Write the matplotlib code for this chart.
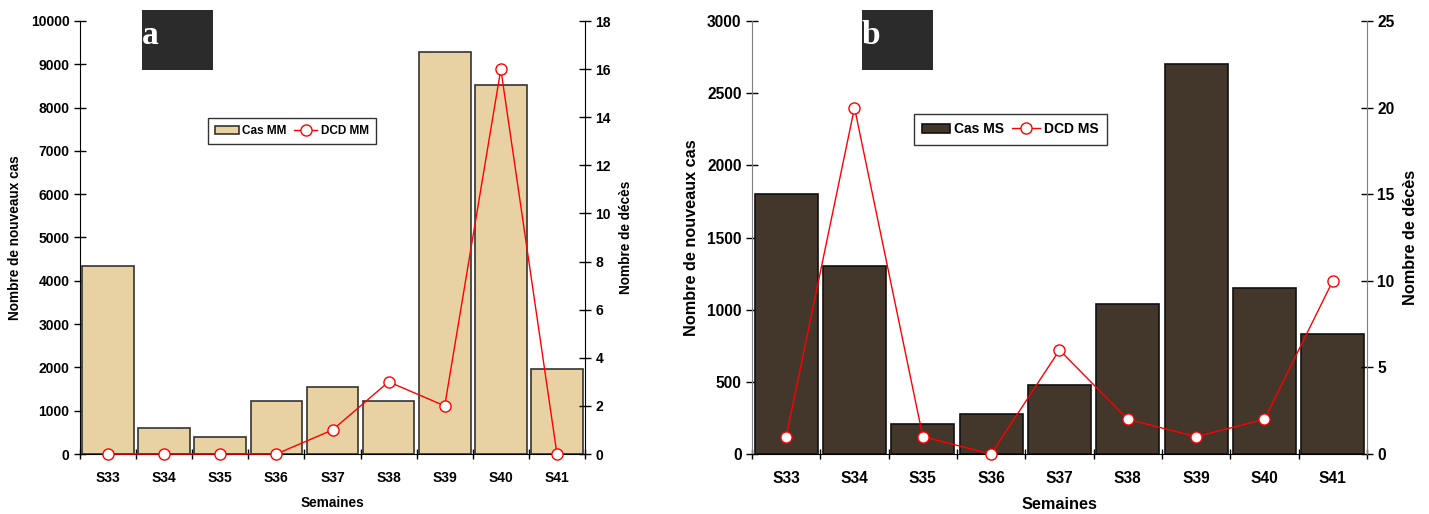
import matplotlib.pyplot as plt
import numpy as np

weeks = ["S33", "S34", "S35", "S36", "S37", "S38", "S39", "S40", "S41"]

# panel a (MM)
cas_mm = [4350, 600, 400, 1230, 1550, 1230, 9280, 8520, 1960]
dcd_mm = [0, 0, 0, 0, 1, 3, 2, 16, 0]

# panel b (MS)
cas_ms = [1800, 1300, 210, 275, 480, 1040, 2700, 1150, 830]
dcd_ms = [1, 20, 1, 0, 6, 2, 1, 2, 10]

plain = ["Liberation Sans", "DejaVu Sans"]

fig = plt.figure(figsize=(14.29, 5.14), dpi=100)


def panel(rect, cas, dcd, ymax, ystep, y2max, y2step, color, edge, spine, letter,
          lab_cas, lab_dcd, leg_pos, letter_rect, fs_tick, fs_lab, fs_leg):
    ax = fig.add_axes(rect)
    x = np.arange(len(weeks))
    bars = ax.bar(x, cas, width=0.92, color=color, edgecolor=edge, linewidth=1.2,
                  label=lab_cas, zorder=2)
    ax.set_xlim(-0.5, len(weeks) - 0.5)
    ax.set_ylim(0, ymax)
    ax.set_yticks(np.arange(0, ymax + 1, ystep))
    ax.set_xticks(x)
    ax.set_xticklabels(weeks, family=plain, fontweight="bold", fontsize=fs_tick)
    ax.set_xticks(np.arange(-0.5, len(weeks)), minor=True)
    ax.tick_params(axis="x", which="major", length=0, pad=12)
    ax.tick_params(axis="x", which="minor", length=7, direction="inout", width=1)
    ax.tick_params(axis="y", direction="inout", length=8, width=1)
    for t in ax.get_yticklabels():
        t.set_family(plain)
        t.set_fontweight("bold")
        t.set_fontsize(fs_tick)
    ax.spines["top"].set_visible(False)
    ax.spines["right"].set_visible(False)
    ax.spines["left"].set_color(spine)
    ax.set_ylabel("Nombre de nouveaux cas", family=plain, fontweight="bold", fontsize=fs_lab,
                  labelpad=6)
    ax.set_xlabel("Semaines", family=plain, fontweight="bold", fontsize=fs_lab, labelpad=8)

    ax2 = ax.twinx()
    line, = ax2.plot(x, dcd, color="red", linewidth=1, marker="o", markersize=8,
                     markerfacecolor="white", markeredgecolor="red", markeredgewidth=1,
                     label=lab_dcd, clip_on=False, zorder=3)
    ax2.set_ylim(0, y2max)
    ax2.set_yticks(np.arange(0, y2max + 1, y2step))
    ax2.tick_params(axis="y", direction="inout", length=8, width=1)
    for t in ax2.get_yticklabels():
        t.set_family(plain)
        t.set_fontweight("bold")
        t.set_fontsize(fs_tick)
    ax2.spines["top"].set_visible(False)
    ax2.spines["left"].set_visible(False)
    ax2.spines["bottom"].set_visible(False)
    ax2.spines["right"].set_color(spine)
    ax2.set_ylabel("Nombre de décès", family=plain, fontweight="bold", fontsize=fs_lab,
                   labelpad=6)

    leg = ax2.legend([bars, line], [lab_cas, lab_dcd], loc="center", bbox_to_anchor=leg_pos,
                     ncol=2, frameon=True, fancybox=False, edgecolor="black",
                     prop={"family": plain, "weight": "bold", "size": fs_leg},
                     handlelength=2.0, columnspacing=0.6, handletextpad=0.3,
                     borderpad=0.6)
    leg.get_frame().set_linewidth(1)

    lax = fig.add_axes(letter_rect)
    lax.set_facecolor("#2b2b2b")
    lax.set_xticks([])
    lax.set_yticks([])
    for s in lax.spines.values():
        s.set_visible(False)
    lax.text(0.0, 0.58, letter, color="white", fontsize=24, fontweight="bold",
             family=["Liberation Serif", "DejaVu Serif"], va="center", ha="left",
             transform=lax.transAxes)


W, H = 1429, 514
panel([80 / W, 60 / H, 505 / W, 433 / H], cas_mm, dcd_mm, 10000, 1000, 18, 2,
      "#e8d2a3", "#333333", "black", "a", "Cas MM", "DCD MM", (0.42, 0.745),
      [142 / W, 444 / H, 71 / W, 60 / H], 10, 9.8, 8.5)
panel([752 / W, 60 / H, 615 / W, 433 / H], cas_ms, dcd_ms, 3000, 500, 25, 5,
      "#43362a", "#111111", "#808080", "b", "Cas MS", "DCD MS", (0.42, 0.75),
      [862 / W, 444 / H, 71 / W, 60 / H], 11.2, 11.7, 10)

fig.savefig("out.png", dpi=100)
